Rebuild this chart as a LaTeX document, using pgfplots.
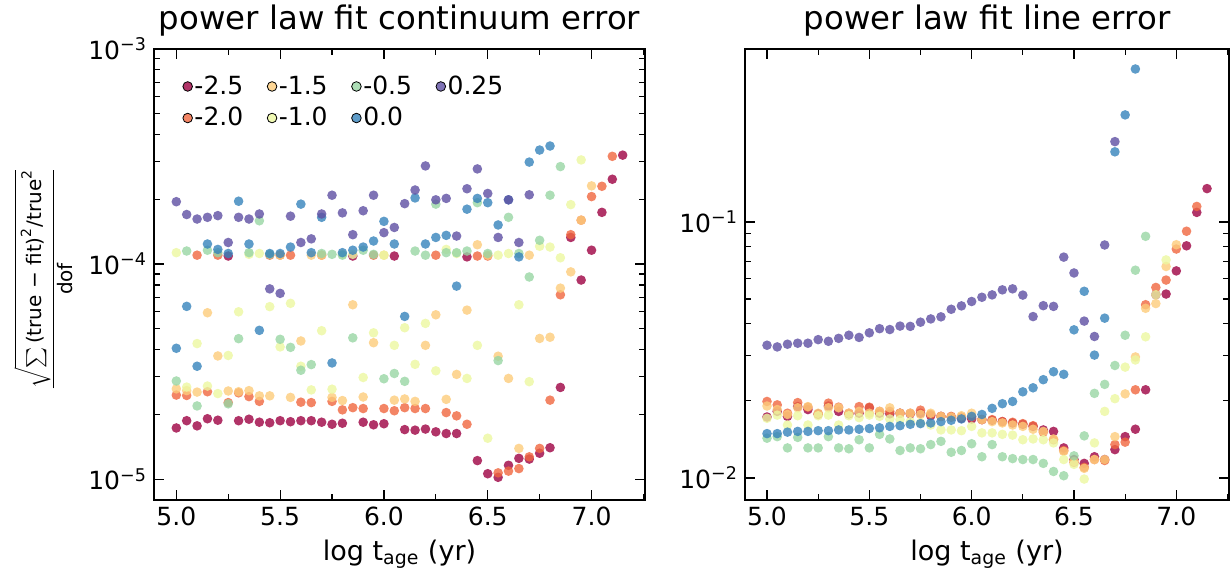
\documentclass[border=0pt]{standalone}
\usepackage{fontspec}
\setmainfont{DejaVu Sans}
\usepackage{amsmath}
\usepackage{pgfplots}
\pgfplotsset{compat=1.18}
\definecolor{c1}{HTML}{9E0142}
\definecolor{c2}{HTML}{F0663F}
\definecolor{c3}{HTML}{FDCC7B}
\definecolor{c4}{HTML}{ECF7A0}
\definecolor{c5}{HTML}{98D6A4}
\definecolor{c6}{HTML}{3683BB}
\definecolor{c7}{HTML}{5E4FA2}
\begin{document}
\begin{tikzpicture}
\useasboundingbox (0,0) rectangle (615pt,288pt);
\begin{axis}[at={(77pt,38pt)}, anchor=south west, scale only axis,
  width=245.5pt, height=225.5pt,
  ymode=log,
  xmin=4.8925, xmax=7.2575,
  xtick={5,5.5,6,6.5,7},
  xticklabels={5.0,5.5,6.0,6.5,7.0},
  minor xtick={5.25,5.75,6.25,6.75,7.25},
  tick pos=both, tick align=inside,
  major tick length=5pt, minor tick length=3pt,
  every tick/.style={black, line width=0.6pt},
  axis line style={line width=0.7pt},
  tick label style={font=\fontsize{12.5}{15}\selectfont},
  label style={font=\fontsize{13.5}{16}\selectfont},
  title style={font=\fontsize{16.2}{19}\selectfont, yshift=-3pt},
  xlabel={log t\textsubscript{age} (yr)},
  ymin=8e-6, ymax=1e-3,
  ytick={1e-5,1e-4,1e-3},
  yticklabels={10\textsuperscript{−5},10\textsuperscript{−4},10\textsuperscript{−3}},
  title={power law fit continuum error},
  ylabel={\fontsize{10}{12}\selectfont$\displaystyle\frac{\sqrt{\textstyle\sum\text{(true − fit)}^{\text{2}}\text{/true}^{\text{2}}}}{\text{dof}}$},
  ylabel style={at={(axis description cs:-0.226,0.49)}, anchor=center, inner sep=0pt},
  legend columns=4,
  legend cell align=left,
  legend image code/.code={\fill[#1] (2.4pt,0pt) circle (2.4pt);},
  legend style={draw=none, fill=none, at={(0.045,0.955)}, anchor=north west,
    font=\fontsize{12.5}{15}\selectfont, nodes={inner xsep=0.8pt, inner ysep=1pt},
    row sep=3pt, /tikz/every even column/.append style={column sep=11pt}},
]
\addlegendimage{fill=c1, fill opacity=0.8}\addlegendentry{-2.5}
\addlegendimage{fill=c3, fill opacity=0.8}\addlegendentry{-1.5}
\addlegendimage{fill=c5, fill opacity=0.8}\addlegendentry{-0.5}
\addlegendimage{fill=c7, fill opacity=0.8}\addlegendentry{0.25}
\addlegendimage{fill=c2, fill opacity=0.8}\addlegendentry{-2.0}
\addlegendimage{fill=c4, fill opacity=0.8}\addlegendentry{-1.0}
\addlegendimage{fill=c6, fill opacity=0.8}\addlegendentry{0.0}
% -2.5
\addplot[forget plot, only marks, mark=*, mark size=2.4pt, color=c1, mark options={draw opacity=0, fill opacity=0.8}] coordinates {(5.00,1.73e-5)(5.05,1.87e-5)(5.10,1.77e-5)(5.15,1.91e-5)(5.20,1.88e-5)(5.25,1.09e-4)(5.30,1.87e-5)(5.35,1.90e-5)(5.40,1.84e-5)(5.45,1.83e-5)(5.50,1.87e-5)(5.55,1.85e-5)(5.60,1.87e-5)(5.65,1.87e-5)(5.70,1.84e-5)(5.75,1.80e-5)(5.80,1.82e-5)(5.85,1.09e-4)(5.90,1.84e-5)(5.95,1.79e-5)(6.00,1.81e-5)(6.05,1.09e-4)(6.10,1.70e-5)(6.15,1.69e-5)(6.20,1.71e-5)(6.25,1.66e-5)(6.30,1.63e-5)(6.35,1.63e-5)(6.40,1.08e-4)(6.45,1.22e-5)(6.50,1.06e-5)(6.55,1.02e-5)(6.60,1.16e-5)(6.65,1.25e-5)(6.70,1.24e-5)(6.75,1.32e-5)(6.80,1.40e-5)(6.85,2.67e-5)(6.90,1.33e-4)(6.95,8.43e-5)(7.00,1.16e-4)(7.05,1.74e-4)(7.10,2.48e-4)(7.15,3.21e-4)};
% -2.0
\addplot[forget plot, only marks, mark=*, mark size=2.4pt, color=c2, mark options={draw opacity=0, fill opacity=0.8}] coordinates {(5.00,2.46e-5)(5.05,2.45e-5)(5.10,1.10e-4)(5.15,2.55e-5)(5.20,1.10e-4)(5.25,2.27e-5)(5.30,2.52e-5)(5.35,2.42e-5)(5.40,2.30e-5)(5.45,1.10e-4)(5.50,1.10e-4)(5.55,1.10e-4)(5.60,2.28e-5)(5.65,2.27e-5)(5.70,1.10e-4)(5.75,2.30e-5)(5.80,2.10e-5)(5.85,2.15e-5)(5.90,2.13e-5)(5.95,1.10e-4)(6.00,2.13e-5)(6.05,2.08e-5)(6.10,2.15e-5)(6.15,2.13e-5)(6.20,2.13e-5)(6.25,1.10e-4)(6.30,2.04e-5)(6.35,1.97e-5)(6.40,1.80e-5)(6.45,1.09e-4)(6.50,1.09e-4)(6.55,1.07e-5)(6.60,1.09e-5)(6.65,1.12e-5)(6.70,1.27e-5)(6.75,1.39e-5)(6.80,2.33e-5)(6.85,7.20e-5)(6.90,1.37e-4)(6.95,1.60e-4)(7.00,2.06e-4)(7.05,2.30e-4)(7.10,3.17e-4)};
% -1.5
\addplot[forget plot, only marks, mark=*, mark size=2.4pt, color=c3, mark options={draw opacity=0, fill opacity=0.8}] coordinates {(5.00,2.63e-5)(5.05,2.58e-5)(5.10,2.54e-5)(5.15,5.94e-5)(5.20,3.74e-5)(5.25,2.57e-5)(5.30,2.55e-5)(5.35,2.58e-5)(5.40,2.44e-5)(5.45,2.44e-5)(5.50,1.10e-4)(5.55,2.40e-5)(5.60,4.39e-5)(5.65,1.10e-4)(5.70,1.10e-4)(5.75,2.40e-5)(5.80,2.32e-5)(5.85,6.47e-5)(5.90,2.41e-5)(5.95,4.31e-5)(6.00,1.10e-4)(6.05,2.33e-5)(6.10,2.36e-5)(6.15,2.30e-5)(6.20,4.19e-5)(6.25,5.81e-5)(6.30,2.35e-5)(6.35,3.07e-5)(6.40,6.11e-5)(6.45,1.23e-4)(6.50,1.10e-4)(6.55,3.73e-5)(6.60,2.94e-5)(6.65,1.39e-5)(6.70,1.10e-4)(6.75,4.51e-5)(6.80,4.57e-5)(6.85,7.73e-5)(6.90,9.20e-5)(6.95,1.60e-4)(7.00,2.31e-4)};
% -1.0
\addplot[forget plot, only marks, mark=*, mark size=2.4pt, color=c4, mark options={draw opacity=0, fill opacity=0.8}] coordinates {(5.00,1.13e-4)(5.05,2.68e-5)(5.10,4.27e-5)(5.15,2.71e-5)(5.20,2.50e-5)(5.25,3.76e-5)(5.30,6.00e-5)(5.35,1.11e-4)(5.40,1.12e-4)(5.45,6.34e-5)(5.50,4.12e-5)(5.55,6.57e-5)(5.60,3.35e-5)(5.65,2.60e-5)(5.70,4.90e-5)(5.75,2.62e-5)(5.80,1.11e-4)(5.85,1.11e-4)(5.90,2.97e-5)(5.95,4.79e-5)(6.00,1.10e-4)(6.05,4.19e-5)(6.10,5.06e-5)(6.15,3.42e-5)(6.20,5.30e-5)(6.25,3.19e-5)(6.30,1.17e-4)(6.35,1.12e-4)(6.40,2.94e-5)(6.45,4.19e-5)(6.50,1.55e-5)(6.55,1.10e-4)(6.60,1.12e-4)(6.65,6.47e-5)(6.70,2.84e-5)(6.75,1.21e-4)(6.80,1.20e-4)(6.85,1.07e-4)(6.90,1.89e-4)(6.95,3.05e-4)};
% -0.5
\addplot[forget plot, only marks, mark=*, mark size=2.4pt, color=c5, mark options={draw opacity=0, fill opacity=0.8}] coordinates {(5.00,2.86e-5)(5.05,1.15e-4)(5.10,2.19e-5)(5.15,1.16e-4)(5.20,1.13e-4)(5.25,2.24e-5)(5.30,4.50e-5)(5.35,1.13e-4)(5.40,1.59e-4)(5.45,1.11e-4)(5.50,4.47e-5)(5.55,4.10e-5)(5.60,3.21e-5)(5.65,3.41e-5)(5.70,1.12e-4)(5.75,1.11e-4)(5.80,1.10e-4)(5.85,4.54e-5)(5.90,1.16e-4)(5.95,1.11e-4)(6.00,2.93e-5)(6.05,3.10e-5)(6.10,2.85e-5)(6.15,1.15e-4)(6.20,1.10e-4)(6.25,1.90e-4)(6.30,1.13e-4)(6.35,1.13e-4)(6.40,1.15e-4)(6.45,1.93e-4)(6.50,1.12e-4)(6.55,3.56e-5)(6.60,1.65e-4)(6.65,1.12e-4)(6.70,8.71e-5)(6.75,1.29e-4)(6.80,2.09e-4)(6.85,2.84e-4)};
% 0.0
\addplot[forget plot, only marks, mark=*, mark size=2.4pt, color=c6, mark options={draw opacity=0, fill opacity=0.8}] coordinates {(5.00,4.06e-5)(5.05,6.36e-5)(5.10,3.35e-5)(5.15,1.24e-4)(5.20,1.17e-4)(5.25,1.12e-4)(5.30,1.96e-4)(5.35,1.24e-4)(5.40,4.92e-5)(5.45,1.12e-4)(5.50,1.12e-4)(5.55,1.20e-4)(5.60,1.90e-4)(5.65,1.13e-4)(5.70,1.65e-4)(5.75,3.47e-5)(5.80,1.13e-4)(5.85,1.16e-4)(5.90,1.20e-4)(5.95,1.28e-4)(6.00,1.58e-4)(6.05,1.24e-4)(6.10,5.71e-5)(6.15,2.03e-4)(6.20,1.24e-4)(6.25,1.33e-4)(6.30,1.36e-4)(6.35,7.90e-5)(6.40,1.80e-4)(6.45,2.02e-4)(6.50,1.93e-4)(6.55,1.52e-4)(6.60,1.99e-4)(6.65,1.08e-4)(6.70,2.98e-4)(6.75,3.39e-4)(6.80,3.54e-4)};
% 0.25
\addplot[forget plot, only marks, mark=*, mark size=2.4pt, color=c7, mark options={draw opacity=0, fill opacity=0.8}] coordinates {(5.00,1.95e-4)(5.05,1.70e-4)(5.10,1.62e-4)(5.15,1.65e-4)(5.20,1.68e-4)(5.25,1.26e-4)(5.30,1.65e-4)(5.35,1.62e-4)(5.40,1.71e-4)(5.45,7.67e-5)(5.50,7.31e-5)(5.55,1.67e-4)(5.60,1.26e-4)(5.65,1.31e-4)(5.70,1.71e-4)(5.75,2.09e-4)(5.80,1.73e-4)(5.85,1.37e-4)(5.90,1.77e-4)(5.95,2.09e-4)(6.00,1.40e-4)(6.05,1.48e-4)(6.10,1.91e-4)(6.15,2.21e-4)(6.20,2.86e-4)(6.25,1.99e-4)(6.30,2.02e-4)(6.35,1.35e-4)(6.40,2.24e-4)(6.45,2.77e-4)(6.50,2.13e-4)(6.55,1.33e-4)(6.60,1.99e-4)(6.65,1.26e-4)(6.70,2.10e-4)};
\end{axis}

\begin{axis}[at={(372.5pt,38pt)}, anchor=south west, scale only axis,
  width=242pt, height=225.5pt,
  ymode=log,
  xmin=4.8925, xmax=7.2575,
  xtick={5,5.5,6,6.5,7},
  xticklabels={5.0,5.5,6.0,6.5,7.0},
  minor xtick={5.25,5.75,6.25,6.75,7.25},
  tick pos=both, tick align=inside,
  major tick length=5pt, minor tick length=3pt,
  every tick/.style={black, line width=0.6pt},
  axis line style={line width=0.7pt},
  tick label style={font=\fontsize{12.5}{15}\selectfont},
  label style={font=\fontsize{13.5}{16}\selectfont},
  title style={font=\fontsize{16.2}{19}\selectfont, yshift=-3pt},
  xlabel={log t\textsubscript{age} (yr)},
  ymin=0.0082, ymax=0.474,
  ytick={0.01,0.1},
  yticklabels={10\textsuperscript{−2},10\textsuperscript{−1}},
  title={power law fit line error},
]
% -2.5
\addplot[only marks, mark=*, mark size=2.4pt, color=c1, mark options={draw opacity=0, fill opacity=0.8}] coordinates {(5.00,0.0173)(5.05,0.0182)(5.10,0.0174)(5.15,0.0190)(5.20,0.0185)(5.25,0.0178)(5.30,0.0191)(5.35,0.0182)(5.40,0.0178)(5.45,0.0179)(5.50,0.0188)(5.55,0.0179)(5.60,0.0178)(5.65,0.0179)(5.70,0.0178)(5.75,0.0179)(5.80,0.0175)(5.85,0.0174)(5.90,0.0173)(5.95,0.0171)(6.00,0.0170)(6.05,0.0169)(6.10,0.0168)(6.15,0.0166)(6.20,0.0164)(6.25,0.0162)(6.30,0.0159)(6.35,0.0154)(6.40,0.0152)(6.45,0.0131)(6.50,0.0118)(6.55,0.0114)(6.60,0.0121)(6.65,0.0118)(6.70,0.0129)(6.75,0.0145)(6.80,0.0155)(6.85,0.0221)(6.90,0.0520)(6.95,0.0523)(7.00,0.0644)(7.05,0.0807)(7.10,0.109)(7.15,0.135)};
% -2.0
\addplot[only marks, mark=*, mark size=2.4pt, color=c2, mark options={draw opacity=0, fill opacity=0.8}] coordinates {(5.00,0.0199)(5.05,0.0193)(5.10,0.0179)(5.15,0.0197)(5.20,0.0189)(5.25,0.0177)(5.30,0.0196)(5.35,0.0189)(5.40,0.0179)(5.45,0.0190)(5.50,0.0189)(5.55,0.0182)(5.60,0.0182)(5.65,0.0179)(5.70,0.0179)(5.75,0.0184)(5.80,0.0177)(5.85,0.0174)(5.90,0.0174)(5.95,0.0173)(6.00,0.0173)(6.05,0.0169)(6.10,0.0169)(6.15,0.0166)(6.20,0.0165)(6.25,0.0163)(6.30,0.0160)(6.35,0.0151)(6.40,0.0141)(6.45,0.0128)(6.50,0.0115)(6.55,0.0110)(6.60,0.0118)(6.65,0.0117)(6.70,0.0135)(6.75,0.0138)(6.80,0.0221)(6.85,0.0475)(6.90,0.0555)(6.95,0.0593)(7.00,0.0784)(7.05,0.0920)(7.10,0.115)};
% -1.5
\addplot[only marks, mark=*, mark size=2.4pt, color=c3, mark options={draw opacity=0, fill opacity=0.8}] coordinates {(5.00,0.0191)(5.05,0.0185)(5.10,0.0177)(5.15,0.0188)(5.20,0.0190)(5.25,0.0179)(5.30,0.0188)(5.35,0.0188)(5.40,0.0179)(5.45,0.0182)(5.50,0.0179)(5.55,0.0182)(5.60,0.0188)(5.65,0.0179)(5.70,0.0179)(5.75,0.0177)(5.80,0.0179)(5.85,0.0174)(5.90,0.0173)(5.95,0.0175)(6.00,0.0179)(6.05,0.0169)(6.10,0.0166)(6.15,0.0164)(6.20,0.0161)(6.25,0.0159)(6.30,0.0155)(6.35,0.0152)(6.40,0.0142)(6.45,0.0127)(6.50,0.0116)(6.55,0.0109)(6.60,0.0118)(6.65,0.0118)(6.70,0.0145)(6.75,0.0213)(6.80,0.0297)(6.85,0.0460)(6.90,0.0480)(6.95,0.0670)(7.00,0.0815)};
% -1.0
\addplot[only marks, mark=*, mark size=2.4pt, color=c4, mark options={draw opacity=0, fill opacity=0.8}] coordinates {(5.00,0.0171)(5.05,0.0176)(5.10,0.0161)(5.15,0.0175)(5.20,0.0161)(5.25,0.0175)(5.30,0.0176)(5.35,0.0161)(5.40,0.0175)(5.45,0.0172)(5.50,0.0176)(5.55,0.0174)(5.60,0.0170)(5.65,0.0169)(5.70,0.0166)(5.75,0.0164)(5.80,0.0161)(5.85,0.0154)(5.90,0.0154)(5.95,0.0153)(6.00,0.0159)(6.05,0.0150)(6.10,0.0150)(6.15,0.0148)(6.20,0.0147)(6.25,0.0141)(6.30,0.0142)(6.35,0.0141)(6.40,0.0137)(6.45,0.0118)(6.50,0.0113)(6.55,0.0099)(6.60,0.0137)(6.65,0.0182)(6.70,0.0204)(6.75,0.0271)(6.80,0.0289)(6.85,0.0356)(6.90,0.0520)(6.95,0.0711)};
% -0.5
\addplot[only marks, mark=*, mark size=2.4pt, color=c5, mark options={draw opacity=0, fill opacity=0.8}] coordinates {(5.00,0.0143)(5.05,0.0145)(5.10,0.0131)(5.15,0.0144)(5.20,0.0131)(5.25,0.0131)(5.30,0.0145)(5.35,0.0131)(5.40,0.0130)(5.45,0.0141)(5.50,0.0131)(5.55,0.0148)(5.60,0.0142)(5.65,0.0128)(5.70,0.0131)(5.75,0.0130)(5.80,0.0135)(5.85,0.0139)(5.90,0.0126)(5.95,0.0128)(6.00,0.0136)(6.05,0.0121)(6.10,0.0135)(6.15,0.0121)(6.20,0.0119)(6.25,0.0118)(6.30,0.0118)(6.35,0.0114)(6.40,0.0106)(6.45,0.0102)(6.50,0.0122)(6.55,0.0146)(6.60,0.0214)(6.65,0.0232)(6.70,0.0275)(6.75,0.0361)(6.80,0.0648)(6.85,0.0879)};
% 0.0
\addplot[only marks, mark=*, mark size=2.4pt, color=c6, mark options={draw opacity=0, fill opacity=0.8}] coordinates {(5.00,0.0149)(5.05,0.0149)(5.10,0.0151)(5.15,0.0152)(5.20,0.0152)(5.25,0.0153)(5.30,0.0153)(5.35,0.0154)(5.40,0.0154)(5.45,0.0155)(5.50,0.0156)(5.55,0.0157)(5.60,0.0159)(5.65,0.0160)(5.70,0.0162)(5.75,0.0163)(5.80,0.0164)(5.85,0.0166)(5.90,0.0168)(5.95,0.0170)(6.00,0.0174)(6.05,0.0177)(6.10,0.0187)(6.15,0.0195)(6.20,0.0199)(6.25,0.0217)(6.30,0.0225)(6.35,0.0242)(6.40,0.0260)(6.45,0.0254)(6.50,0.0379)(6.55,0.0536)(6.60,0.0302)(6.65,0.0421)(6.70,0.188)(6.75,0.262)(6.80,0.396)};
% 0.25
\addplot[only marks, mark=*, mark size=2.4pt, color=c7, mark options={draw opacity=0, fill opacity=0.8}] coordinates {(5.00,0.0330)(5.05,0.0325)(5.10,0.0333)(5.15,0.0336)(5.20,0.0336)(5.25,0.0347)(5.30,0.0342)(5.35,0.0351)(5.40,0.0361)(5.45,0.0354)(5.50,0.0369)(5.55,0.0383)(5.60,0.0380)(5.65,0.0392)(5.70,0.0391)(5.75,0.0406)(5.80,0.0418)(5.85,0.0426)(5.90,0.0456)(5.95,0.0470)(6.00,0.0489)(6.05,0.0508)(6.10,0.0519)(6.15,0.0543)(6.20,0.0548)(6.25,0.0518)(6.30,0.0427)(6.35,0.0471)(6.40,0.0468)(6.45,0.0729)(6.50,0.0632)(6.55,0.0410)(6.60,0.0357)(6.65,0.0813)(6.70,0.206)};
\end{axis}
\end{tikzpicture}
\end{document}
